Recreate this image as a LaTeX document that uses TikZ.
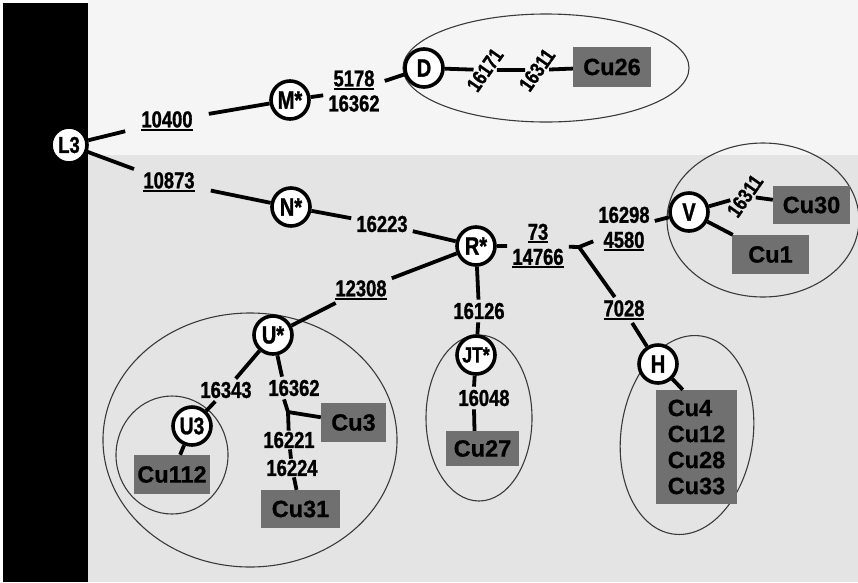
\documentclass[tikz,border=0pt]{standalone}
\usepackage{fontspec}
\setmainfont{Liberation Sans}[BoldFeatures={FakeBold=0.8}]
\newfontfamily\narrowfont[FakeStretch=0.8, BoldFeatures={FakeBold=1.2}]{Liberation Sans}
\usetikzlibrary{calc}
\definecolor{topbg}{HTML}{F5F5F5}
\definecolor{botbg}{HTML}{E4E4E4}
\definecolor{cugray}{HTML}{707070}
\definecolor{ellc}{HTML}{3A3A3A}
\newcommand\undl[1]{\vtop{\hbox{#1}\kern1.4pt\hrule height 1.8pt}}
\tikzset{
  hap/.style={circle, draw=black, line width=3.6pt, fill=white, minimum size=38pt, inner sep=0pt,
    font=\narrowfont\bfseries\fontsize{25}{25}\selectfont},
  lab/.style={font=\narrowfont\bfseries\fontsize{23}{25}\selectfont, inner xsep=5pt, inner ysep=3pt, align=center},
  rlab/.style={font=\narrowfont\bfseries\fontsize{21}{22}\selectfont, rotate=55, inner sep=2pt},
  cu/.style={fill=cugray, inner sep=0pt, font=\bfseries\fontsize{23.5}{26}\selectfont, text=black},
  link/.style={line width=3.8pt},
  ell/.style={line width=1.1pt, draw=ellc},
}
\begin{document}
\begin{tikzpicture}[x=1pt,y=-1pt]
\useasboundingbox (0,0) rectangle (858,582);
\fill[white] (0,0) rectangle (858,582);
\fill[topbg] (88,0) rectangle (858,155);
\fill[botbg] (88,155) rectangle (858,582);
\fill[black] (3,3) rectangle (88,582);
% groups
\draw[ell] (546,68) ellipse [x radius=143pt, y radius=54pt];
\draw[ell] (763,220) ellipse [x radius=96pt, y radius=77pt];
\draw[ell] (250,440) ellipse [x radius=147pt, y radius=127pt];
\draw[ell] (172,455) ellipse [x radius=56pt, y radius=59pt];
\draw[ell] (479,418) ellipse [x radius=53pt, y radius=83pt];
\draw[ell, rotate around={-8:(687,435)}] (687,435) ellipse [x radius=66pt, y radius=100pt];
% haplotype circles
\node[hap, minimum size=36pt, font=\narrowfont\bfseries\fontsize{23}{23}\selectfont] (L3) at (69,145) {L3};
\node[hap] (M) at (290,100) {M*};
\node[hap] (D) at (424,68) {D};
\node[hap] (N) at (291,207) {N*};
\node[hap] (R) at (476,246) {R*};
\node[hap] (V) at (689,212) {V};
\node[hap] (H) at (658,364) {H};
\node[hap, font=\narrowfont\bfseries\fontsize{22}{22}\selectfont] (JT) at (476,355) {JT*};
\node[hap] (U) at (273,335) {U*};
\node[hap, font=\narrowfont\bfseries\fontsize{24}{24}\selectfont] (U3) at (192,426) {U3};
% sample boxes
\node[cu, minimum width=78pt, minimum height=40pt] (Cu26) at (612,67) {Cu26};
\node[cu, minimum width=77pt, minimum height=38pt] (Cu30) at (811.5,205) {Cu30};
\node[cu, minimum width=77pt, minimum height=39pt] (Cu1) at (770.5,254.5) {Cu1};
\node[cu, minimum width=81pt, minimum height=114pt, align=left] (box4) at (696.5,447) {Cu4\\Cu12\\Cu28\\Cu33};
\node[cu, minimum width=73pt, minimum height=35pt] (Cu27) at (482.5,448.5) {Cu27};
\node[cu, minimum width=76pt, minimum height=39pt] (Cu112) at (172,474.5) {Cu112};
\node[cu, minimum width=65pt, minimum height=39pt] (Cu3) at (353.5,422.5) {Cu3};
\node[cu, minimum width=79pt, minimum height=38pt] (Cu31) at (300.5,509) {Cu31};
% mutation labels
\node[lab, inner xsep=16pt] (e10400) at (167,121) {\undl{10400}};
\node[lab] (e5178) at (354,91) {\undl{5178}\\16362};
\node[rlab] (e16171) at (485,70) {16171};
\node[rlab] (d16311) at (537,70) {16311};
\node[lab, inner xsep=16pt] (e10873) at (169,182) {\undl{10873}};
\node[lab] (e16223) at (382,224) {16223};
\node[lab] (e73) at (538,246) {\undl{73}\\\undl{14766}};
\coordinate (J) at (579,247);
\node[lab] (e16298) at (624,229) {16298\\\undl{4580}};
\node[rlab] (v16311) at (745,196) {16311};
\node[lab] (e7028) at (624,310) {\undl{7028}};
\node[lab] (e16126) at (479,311) {16126};
\node[lab] (e16048) at (484,398) {16048};
\node[lab] (e12308) at (361,290) {\undl{12308}};
\node[lab] (e16343) at (226,390) {16343};
\node[lab] (u16362) at (294,388) {16362};
\coordinate (K) at (288,412);
\node[lab, inner ysep=1pt] (e16221) at (289,440) {16221};
\node[lab, inner ysep=1pt] (e16224) at (292,468) {16224};
% connectors
\draw[link] (L3) -- (e10400) -- (M) -- (e5178) -- (D) -- (e16171) -- (d16311) -- (Cu26);
\draw[link] (L3) -- (e10873) -- (N) -- (e16223) -- (R) -- (e73) -- (J);
\draw[link] (J) -- (e16298) -- (V) -- (v16311) -- (Cu30);
\draw[link] (V) -- (Cu1);
\draw[link] (J) -- (e7028) -- (H) -- ([xshift=27pt]box4.north west);
\draw[link] (R) -- (e16126) -- (JT) -- ([xshift=-10pt]e16048.north);
\draw[link] ([xshift=-10pt]e16048.south) -- ([xshift=-8pt]Cu27.north);
\draw[link] (R) -- (e12308) -- (U) -- (e16343) -- (U3) -- (Cu112);
\draw[link] (U) -- ([xshift=-12pt]u16362.north);
\draw[link] ([xshift=-10pt]u16362.south) -- (K) -- (e16221) -- (e16224) -- (Cu31);
\draw[link] (K) -- (Cu3);
\end{tikzpicture}
\end{document}
